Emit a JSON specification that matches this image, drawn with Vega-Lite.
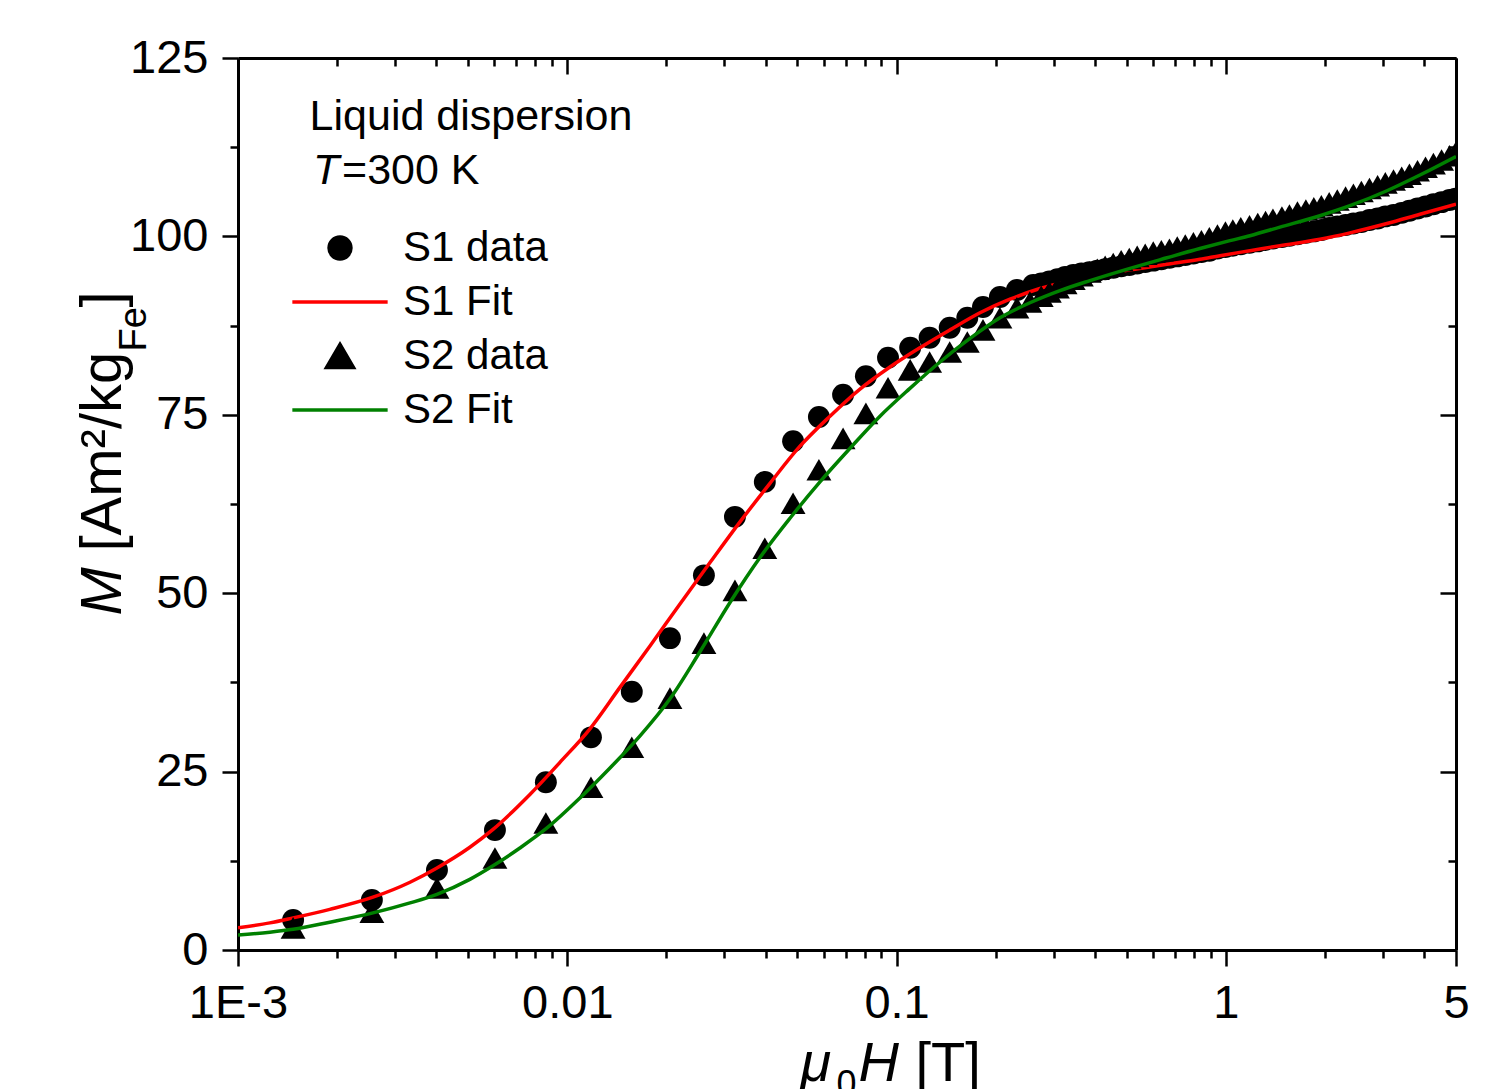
{
  "$schema": "https://vega.github.io/schema/vega-lite/v6.json",
  "width": 1218,
  "height": 892,
  "autosize": {"type": "none"},
  "padding": {"left": 238, "top": 58, "right": 51, "bottom": 139},
  "background": "white",
  "config": {"view": {"stroke": null}, "axis": {"grid": false}, "font": "Liberation Sans"},
  "datasets": {
    "pts": [
      {"H": 0.00147, "M": 4.2, "series": "S1 data"},
      {"H": 0.00255, "M": 7.0, "series": "S1 data"},
      {"H": 0.00402, "M": 11.2, "series": "S1 data"},
      {"H": 0.00603, "M": 16.8, "series": "S1 data"},
      {"H": 0.00861, "M": 23.5, "series": "S1 data"},
      {"H": 0.0118, "M": 29.8, "series": "S1 data"},
      {"H": 0.0157, "M": 36.2, "series": "S1 data"},
      {"H": 0.0205, "M": 43.7, "series": "S1 data"},
      {"H": 0.026, "M": 52.5, "series": "S1 data"},
      {"H": 0.0323, "M": 60.7, "series": "S1 data"},
      {"H": 0.0398, "M": 65.6, "series": "S1 data"},
      {"H": 0.0485, "M": 71.3, "series": "S1 data"},
      {"H": 0.0581, "M": 74.7, "series": "S1 data"},
      {"H": 0.0688, "M": 77.8, "series": "S1 data"},
      {"H": 0.0807, "M": 80.4, "series": "S1 data"},
      {"H": 0.0942, "M": 83.0, "series": "S1 data"},
      {"H": 0.11, "M": 84.4, "series": "S1 data"},
      {"H": 0.126, "M": 85.8, "series": "S1 data"},
      {"H": 0.145, "M": 87.2, "series": "S1 data"},
      {"H": 0.164, "M": 88.6, "series": "S1 data"},
      {"H": 0.183, "M": 90.1, "series": "S1 data"},
      {"H": 0.206, "M": 91.5, "series": "S1 data"},
      {"H": 0.232, "M": 92.5, "series": "S1 data"},
      {"H": 0.26, "M": 93.2, "series": "S1 data"},
      {"H": 0.275, "M": 93.4, "series": "S1 data"},
      {"H": 0.291, "M": 93.7, "series": "S1 data"},
      {"H": 0.308, "M": 94.0, "series": "S1 data"},
      {"H": 0.325, "M": 94.3, "series": "S1 data"},
      {"H": 0.344, "M": 94.6, "series": "S1 data"},
      {"H": 0.364, "M": 94.8, "series": "S1 data"},
      {"H": 0.385, "M": 95.0, "series": "S1 data"},
      {"H": 0.407, "M": 95.2, "series": "S1 data"},
      {"H": 0.43, "M": 95.4, "series": "S1 data"},
      {"H": 0.455, "M": 95.6, "series": "S1 data"},
      {"H": 0.481, "M": 95.8, "series": "S1 data"},
      {"H": 0.509, "M": 96.0, "series": "S1 data"},
      {"H": 0.538, "M": 96.2, "series": "S1 data"},
      {"H": 0.569, "M": 96.4, "series": "S1 data"},
      {"H": 0.602, "M": 96.6, "series": "S1 data"},
      {"H": 0.637, "M": 96.8, "series": "S1 data"},
      {"H": 0.674, "M": 97.0, "series": "S1 data"},
      {"H": 0.712, "M": 97.2, "series": "S1 data"},
      {"H": 0.753, "M": 97.4, "series": "S1 data"},
      {"H": 0.797, "M": 97.6, "series": "S1 data"},
      {"H": 0.843, "M": 97.8, "series": "S1 data"},
      {"H": 0.891, "M": 98.0, "series": "S1 data"},
      {"H": 0.943, "M": 98.3, "series": "S1 data"},
      {"H": 0.997, "M": 98.5, "series": "S1 data"},
      {"H": 1.05, "M": 98.7, "series": "S1 data"},
      {"H": 1.11, "M": 98.9, "series": "S1 data"},
      {"H": 1.18, "M": 99.1, "series": "S1 data"},
      {"H": 1.25, "M": 99.3, "series": "S1 data"},
      {"H": 1.32, "M": 99.5, "series": "S1 data"},
      {"H": 1.39, "M": 99.7, "series": "S1 data"},
      {"H": 1.48, "M": 99.9, "series": "S1 data"},
      {"H": 1.56, "M": 100.1, "series": "S1 data"},
      {"H": 1.65, "M": 100.3, "series": "S1 data"},
      {"H": 1.75, "M": 100.5, "series": "S1 data"},
      {"H": 1.85, "M": 100.7, "series": "S1 data"},
      {"H": 1.95, "M": 100.9, "series": "S1 data"},
      {"H": 2.06, "M": 101.2, "series": "S1 data"},
      {"H": 2.18, "M": 101.4, "series": "S1 data"},
      {"H": 2.31, "M": 101.6, "series": "S1 data"},
      {"H": 2.44, "M": 101.8, "series": "S1 data"},
      {"H": 2.58, "M": 102.0, "series": "S1 data"},
      {"H": 2.73, "M": 102.3, "series": "S1 data"},
      {"H": 2.89, "M": 102.5, "series": "S1 data"},
      {"H": 3.05, "M": 102.8, "series": "S1 data"},
      {"H": 3.23, "M": 103.0, "series": "S1 data"},
      {"H": 3.42, "M": 103.3, "series": "S1 data"},
      {"H": 3.61, "M": 103.6, "series": "S1 data"},
      {"H": 3.82, "M": 103.9, "series": "S1 data"},
      {"H": 4.04, "M": 104.2, "series": "S1 data"},
      {"H": 4.27, "M": 104.5, "series": "S1 data"},
      {"H": 4.52, "M": 104.8, "series": "S1 data"},
      {"H": 4.78, "M": 105.1, "series": "S1 data"},
      {"H": 4.98, "M": 105.3, "series": "S1 data"},
      {"H": 0.00147, "M": 3.1, "series": "S2 data"},
      {"H": 0.00255, "M": 5.3, "series": "S2 data"},
      {"H": 0.00402, "M": 8.7, "series": "S2 data"},
      {"H": 0.00603, "M": 12.9, "series": "S2 data"},
      {"H": 0.00861, "M": 17.8, "series": "S2 data"},
      {"H": 0.0118, "M": 22.8, "series": "S2 data"},
      {"H": 0.0157, "M": 28.4, "series": "S2 data"},
      {"H": 0.0205, "M": 35.3, "series": "S2 data"},
      {"H": 0.026, "M": 43.0, "series": "S2 data"},
      {"H": 0.0323, "M": 50.4, "series": "S2 data"},
      {"H": 0.0398, "M": 56.3, "series": "S2 data"},
      {"H": 0.0485, "M": 62.6, "series": "S2 data"},
      {"H": 0.0581, "M": 67.3, "series": "S2 data"},
      {"H": 0.0688, "M": 71.7, "series": "S2 data"},
      {"H": 0.0807, "M": 75.2, "series": "S2 data"},
      {"H": 0.0942, "M": 78.8, "series": "S2 data"},
      {"H": 0.11, "M": 81.3, "series": "S2 data"},
      {"H": 0.126, "M": 82.4, "series": "S2 data"},
      {"H": 0.145, "M": 83.8, "series": "S2 data"},
      {"H": 0.164, "M": 85.2, "series": "S2 data"},
      {"H": 0.183, "M": 86.9, "series": "S2 data"},
      {"H": 0.206, "M": 88.6, "series": "S2 data"},
      {"H": 0.232, "M": 90.0, "series": "S2 data"},
      {"H": 0.254, "M": 90.8, "series": "S2 data"},
      {"H": 0.275, "M": 91.6, "series": "S2 data"},
      {"H": 0.291, "M": 92.2, "series": "S2 data"},
      {"H": 0.308, "M": 92.8, "series": "S2 data"},
      {"H": 0.325, "M": 93.4, "series": "S2 data"},
      {"H": 0.344, "M": 94.0, "series": "S2 data"},
      {"H": 0.364, "M": 94.5, "series": "S2 data"},
      {"H": 0.385, "M": 95.0, "series": "S2 data"},
      {"H": 0.407, "M": 95.4, "series": "S2 data"},
      {"H": 0.43, "M": 95.8, "series": "S2 data"},
      {"H": 0.455, "M": 96.2, "series": "S2 data"},
      {"H": 0.481, "M": 96.6, "series": "S2 data"},
      {"H": 0.509, "M": 96.9, "series": "S2 data"},
      {"H": 0.538, "M": 97.2, "series": "S2 data"},
      {"H": 0.569, "M": 97.5, "series": "S2 data"},
      {"H": 0.602, "M": 97.8, "series": "S2 data"},
      {"H": 0.637, "M": 98.0, "series": "S2 data"},
      {"H": 0.674, "M": 98.2, "series": "S2 data"},
      {"H": 0.712, "M": 98.5, "series": "S2 data"},
      {"H": 0.753, "M": 98.8, "series": "S2 data"},
      {"H": 0.797, "M": 99.1, "series": "S2 data"},
      {"H": 0.843, "M": 99.4, "series": "S2 data"},
      {"H": 0.891, "M": 99.8, "series": "S2 data"},
      {"H": 0.943, "M": 100.2, "series": "S2 data"},
      {"H": 0.997, "M": 100.6, "series": "S2 data"},
      {"H": 1.05, "M": 100.9, "series": "S2 data"},
      {"H": 1.11, "M": 101.2, "series": "S2 data"},
      {"H": 1.18, "M": 101.5, "series": "S2 data"},
      {"H": 1.25, "M": 101.8, "series": "S2 data"},
      {"H": 1.32, "M": 102.1, "series": "S2 data"},
      {"H": 1.39, "M": 102.4, "series": "S2 data"},
      {"H": 1.48, "M": 102.7, "series": "S2 data"},
      {"H": 1.56, "M": 103.0, "series": "S2 data"},
      {"H": 1.65, "M": 103.4, "series": "S2 data"},
      {"H": 1.75, "M": 103.7, "series": "S2 data"},
      {"H": 1.85, "M": 104.0, "series": "S2 data"},
      {"H": 1.95, "M": 104.3, "series": "S2 data"},
      {"H": 2.06, "M": 104.7, "series": "S2 data"},
      {"H": 2.18, "M": 105.1, "series": "S2 data"},
      {"H": 2.31, "M": 105.5, "series": "S2 data"},
      {"H": 2.44, "M": 105.9, "series": "S2 data"},
      {"H": 2.58, "M": 106.3, "series": "S2 data"},
      {"H": 2.73, "M": 106.7, "series": "S2 data"},
      {"H": 2.89, "M": 107.1, "series": "S2 data"},
      {"H": 3.05, "M": 107.5, "series": "S2 data"},
      {"H": 3.23, "M": 107.9, "series": "S2 data"},
      {"H": 3.42, "M": 108.3, "series": "S2 data"},
      {"H": 3.61, "M": 108.7, "series": "S2 data"},
      {"H": 3.82, "M": 109.2, "series": "S2 data"},
      {"H": 4.04, "M": 109.7, "series": "S2 data"},
      {"H": 4.27, "M": 110.2, "series": "S2 data"},
      {"H": 4.52, "M": 110.7, "series": "S2 data"},
      {"H": 4.78, "M": 111.3, "series": "S2 data"},
      {"H": 4.98, "M": 111.7, "series": "S2 data"}
    ],
    "fit": [
      {"H": 0.001, "M": 3.1, "series": "S1 Fit"},
      {"H": 0.00125, "M": 3.8, "series": "S1 Fit"},
      {"H": 0.00147, "M": 4.5, "series": "S1 Fit"},
      {"H": 0.0019, "M": 5.7, "series": "S1 Fit"},
      {"H": 0.00257, "M": 7.4, "series": "S1 Fit"},
      {"H": 0.00333, "M": 9.5, "series": "S1 Fit"},
      {"H": 0.00402, "M": 11.5, "series": "S1 Fit"},
      {"H": 0.00506, "M": 14.4, "series": "S1 Fit"},
      {"H": 0.00595, "M": 16.9, "series": "S1 Fit"},
      {"H": 0.0077, "M": 21.8, "series": "S1 Fit"},
      {"H": 0.0095, "M": 26.3, "series": "S1 Fit"},
      {"H": 0.01172, "M": 31.0, "series": "S1 Fit"},
      {"H": 0.01445, "M": 36.8, "series": "S1 Fit"},
      {"H": 0.01783, "M": 42.6, "series": "S1 Fit"},
      {"H": 0.02199, "M": 48.5, "series": "S1 Fit"},
      {"H": 0.02713, "M": 54.3, "series": "S1 Fit"},
      {"H": 0.03346, "M": 60.0, "series": "S1 Fit"},
      {"H": 0.04126, "M": 65.4, "series": "S1 Fit"},
      {"H": 0.0509, "M": 70.6, "series": "S1 Fit"},
      {"H": 0.06278, "M": 74.8, "series": "S1 Fit"},
      {"H": 0.07743, "M": 78.6, "series": "S1 Fit"},
      {"H": 0.0955, "M": 81.7, "series": "S1 Fit"},
      {"H": 0.1178, "M": 84.4, "series": "S1 Fit"},
      {"H": 0.1453, "M": 86.9, "series": "S1 Fit"},
      {"H": 0.1792, "M": 89.3, "series": "S1 Fit"},
      {"H": 0.221, "M": 91.2, "series": "S1 Fit"},
      {"H": 0.2726, "M": 92.7, "series": "S1 Fit"},
      {"H": 0.3362, "M": 93.8, "series": "S1 Fit"},
      {"H": 0.4147, "M": 94.6, "series": "S1 Fit"},
      {"H": 0.5114, "M": 95.3, "series": "S1 Fit"},
      {"H": 0.6624, "M": 96.1, "series": "S1 Fit"},
      {"H": 0.8344, "M": 96.8, "series": "S1 Fit"},
      {"H": 0.9597, "M": 97.3, "series": "S1 Fit"},
      {"H": 1.184, "M": 98.0, "series": "S1 Fit"},
      {"H": 1.46, "M": 98.7, "series": "S1 Fit"},
      {"H": 1.931, "M": 99.6, "series": "S1 Fit"},
      {"H": 2.382, "M": 100.5, "series": "S1 Fit"},
      {"H": 3.085, "M": 101.8, "series": "S1 Fit"},
      {"H": 3.886, "M": 103.1, "series": "S1 Fit"},
      {"H": 5, "M": 104.5, "series": "S1 Fit"},
      {"H": 0.001, "M": 2.1, "series": "S2 Fit"},
      {"H": 0.00125, "M": 2.5, "series": "S2 Fit"},
      {"H": 0.00147, "M": 2.9, "series": "S2 Fit"},
      {"H": 0.0019, "M": 3.9, "series": "S2 Fit"},
      {"H": 0.00257, "M": 5.2, "series": "S2 Fit"},
      {"H": 0.00333, "M": 6.6, "series": "S2 Fit"},
      {"H": 0.00402, "M": 7.8, "series": "S2 Fit"},
      {"H": 0.00506, "M": 9.9, "series": "S2 Fit"},
      {"H": 0.00595, "M": 11.8, "series": "S2 Fit"},
      {"H": 0.00718, "M": 14.3, "series": "S2 Fit"},
      {"H": 0.00868, "M": 17.1, "series": "S2 Fit"},
      {"H": 0.01093, "M": 21.3, "series": "S2 Fit"},
      {"H": 0.01348, "M": 25.5, "series": "S2 Fit"},
      {"H": 0.01663, "M": 30.0, "series": "S2 Fit"},
      {"H": 0.02051, "M": 35.2, "series": "S2 Fit"},
      {"H": 0.02529, "M": 41.8, "series": "S2 Fit"},
      {"H": 0.0312, "M": 48.7, "series": "S2 Fit"},
      {"H": 0.03848, "M": 55.0, "series": "S2 Fit"},
      {"H": 0.04746, "M": 60.5, "series": "S2 Fit"},
      {"H": 0.05853, "M": 65.6, "series": "S2 Fit"},
      {"H": 0.0722, "M": 70.3, "series": "S2 Fit"},
      {"H": 0.08905, "M": 74.8, "series": "S2 Fit"},
      {"H": 0.1098, "M": 78.7, "series": "S2 Fit"},
      {"H": 0.1355, "M": 82.4, "series": "S2 Fit"},
      {"H": 0.1671, "M": 85.7, "series": "S2 Fit"},
      {"H": 0.2061, "M": 88.6, "series": "S2 Fit"},
      {"H": 0.2542, "M": 90.7, "series": "S2 Fit"},
      {"H": 0.3135, "M": 92.4, "series": "S2 Fit"},
      {"H": 0.3867, "M": 93.8, "series": "S2 Fit"},
      {"H": 0.4769, "M": 95.1, "series": "S2 Fit"},
      {"H": 0.6624, "M": 97.0, "series": "S2 Fit"},
      {"H": 0.8344, "M": 98.3, "series": "S2 Fit"},
      {"H": 1.029, "M": 99.4, "series": "S2 Fit"},
      {"H": 1.184, "M": 100.1, "series": "S2 Fit"},
      {"H": 1.46, "M": 101.3, "series": "S2 Fit"},
      {"H": 1.931, "M": 102.9, "series": "S2 Fit"},
      {"H": 2.382, "M": 104.3, "series": "S2 Fit"},
      {"H": 3.085, "M": 106.4, "series": "S2 Fit"},
      {"H": 3.886, "M": 108.6, "series": "S2 Fit"},
      {"H": 5, "M": 111.2, "series": "S2 Fit"}
    ],
    "ann": [
      {"H": 0.00165, "M": 114.9, "label": "Liquid dispersion"},
      {"H": 0.00169, "M": 107.3, "label": "T"},
      {"H": 0.00207, "M": 107.3, "label": "=300 K"}
    ]
  },
  "resolve": {"axis": {"x": "independent", "y": "independent"}},
  "layer": [
    {
      "data": {"name": "pts"},
      "transform": [{"filter": "datum.series == 'S1 data'"}],
      "mark": {"type": "point", "shape": "circle", "filled": true, "size": 480, "opacity": 1, "clip": true},
      "encoding": {
        "x": {"field": "H", "type": "quantitative", "scale": {"type": "log", "domain": [0.001, 5], "nice": false},
          "axis": {"orient": "bottom", "values": [0.001,0.002,0.003,0.004,0.005,0.006,0.007,0.008,0.009,0.01,0.02,0.03,0.04,0.05,0.06,0.07,0.08,0.09,0.1,0.2,0.3,0.4,0.5,0.6,0.7,0.8,0.9,1,2,3,4,5],
            "labelExpr": "datum.value==0.001 ? '1E-3' : datum.value==0.01 ? '0.01' : datum.value==0.1 ? '0.1' : datum.value==1 ? '1' : datum.value==5 ? '5' : ''",
            "tickSize": {"condition": {"test": "datum.value==0.001 || datum.value==0.01 || datum.value==0.1 || datum.value==1 || datum.value==5", "value": 16}, "value": 8},
            "tickWidth": 2.5, "tickColor": "black", "domainColor": "black", "domainWidth": 3,
            "labelFont": "Liberation Sans", "labelFontSize": 47, "labelColor": "black", "labelPadding": 14, "labelOverlap": false, "labelFlush": false, "labelBound": false,
            "title": "μ", "titleFont": "Liberation Sans", "titleFontSize": 56, "titleFontStyle": "italic", "titleFontWeight": "normal", "titleColor": "black",
            "titleX": 562, "titleY": 130, "titleAlign": "left", "titleBaseline": "alphabetic", "titleAngle": 0}},
        "y": {"field": "M", "type": "quantitative", "scale": {"domain": [0, 125], "nice": false},
          "axis": {"orient": "left", "values": [0,12.5,25,37.5,50,62.5,75,87.5,100,112.5,125],
            "labelExpr": "datum.value % 25 == 0 ? datum.label : ''",
            "tickSize": {"condition": {"test": "datum.value % 25 == 0", "value": 16}, "value": 8},
            "tickWidth": 2.5, "tickColor": "black", "domainColor": "black", "domainWidth": 3,
            "labelFont": "Liberation Sans", "labelFontSize": 47, "labelColor": "black", "labelPadding": 14, "labelOverlap": false, "labelBound": false, "labelFlush": false,
            "title": "M", "titleFont": "Liberation Sans", "titleFontSize": 58, "titleFontStyle": "italic", "titleFontWeight": "normal", "titleColor": "black",
            "titleX": -118, "titleY": 557, "titleAlign": "left", "titleBaseline": "alphabetic", "titleAngle": 270}},
        "color": {"field": "series", "type": "nominal",
          "scale": {"domain": ["S1 data", "S1 Fit", "S2 data", "S2 Fit"], "range": ["black", "#ff0000", "black", "#008000"]},
          "legend": {"title": null, "orient": "none", "legendX": 54, "legendY": 169, "padding": 0,
            "labelFont": "Liberation Sans", "labelFontSize": 42, "labelColor": "black", "labelLimit": 0, "symbolSize": 480, "rowPadding": 12,
            "encode": {
              "symbols": {"update": {
                "shape": {"signal": "datum.value=='S1 data' ? 'circle' : datum.value=='S2 data' ? 'M0,-1.05L1.23,1.05L-1.23,1.05Z' : 'M-4.35,0L4.35,0'"},
                "fill": {"signal": "indexof(datum.value,'data') >= 0 ? 'black' : 'transparent'"},
                "stroke": {"signal": "datum.value=='S1 Fit' ? '#ff0000' : datum.value=='S2 Fit' ? '#008000' : 'transparent'"},
                "strokeWidth": {"value": 3.5},
                "opacity": {"value": 1},
                "x": {"value": 48}}},
              "labels": {"update": {"x": {"value": 111}}}}}}
      }
    },
    {
      "data": {"name": "fit"},
      "transform": [{"filter": "datum.series == 'S1 Fit'"}],
      "mark": {"type": "line", "strokeWidth": 3.5, "interpolate": "monotone", "clip": true},
      "encoding": {
        "x": {"field": "H", "type": "quantitative", "scale": {"type": "log", "domain": [0.001, 5], "nice": false},
          "axis": {"orient": "bottom", "domain": false, "ticks": false, "labels": false,
            "title": "0", "titleFont": "Liberation Sans", "titleFontSize": 36, "titleFontWeight": "normal", "titleColor": "black",
            "titleX": 598, "titleY": 145, "titleAlign": "left", "titleBaseline": "alphabetic", "titleAngle": 0}},
        "y": {"field": "M", "type": "quantitative", "scale": {"domain": [0, 125], "nice": false},
          "axis": {"orient": "left", "domain": false, "ticks": false, "labels": false,
            "title": "Fe", "titleFont": "Liberation Sans", "titleFontSize": 38, "titleFontWeight": "normal", "titleColor": "black",
            "titleX": -93, "titleY": 293, "titleAlign": "left", "titleBaseline": "alphabetic", "titleAngle": 270}},
        "color": {"field": "series", "type": "nominal",
          "scale": {"domain": ["S1 data", "S1 Fit", "S2 data", "S2 Fit"], "range": ["black", "#ff0000", "black", "#008000"]},
          "legend": {"title": null, "orient": "none", "legendX": 54, "legendY": 169, "padding": 0,
            "labelFont": "Liberation Sans", "labelFontSize": 42, "labelColor": "black", "labelLimit": 0, "symbolSize": 480, "rowPadding": 12,
            "encode": {
              "symbols": {"update": {
                "shape": {"signal": "datum.value=='S1 data' ? 'circle' : datum.value=='S2 data' ? 'M0,-1.05L1.23,1.05L-1.23,1.05Z' : 'M-4.35,0L4.35,0'"},
                "fill": {"signal": "indexof(datum.value,'data') >= 0 ? 'black' : 'transparent'"},
                "stroke": {"signal": "datum.value=='S1 Fit' ? '#ff0000' : datum.value=='S2 Fit' ? '#008000' : 'transparent'"},
                "strokeWidth": {"value": 3.5},
                "opacity": {"value": 1},
                "x": {"value": 48}}},
              "labels": {"update": {"x": {"value": 111}}}}}}
      }
    },
    {
      "data": {"name": "pts"},
      "transform": [{"filter": "datum.series == 'S2 data'"}],
      "mark": {"type": "point", "shape": "triangle-up", "filled": true, "size": 620, "opacity": 1, "clip": true},
      "encoding": {
        "x": {"field": "H", "type": "quantitative", "scale": {"type": "log", "domain": [0.001, 5], "nice": false},
          "axis": {"orient": "top", "values": [0.001,0.002,0.003,0.004,0.005,0.006,0.007,0.008,0.009,0.01,0.02,0.03,0.04,0.05,0.06,0.07,0.08,0.09,0.1,0.2,0.3,0.4,0.5,0.6,0.7,0.8,0.9,1,2,3,4,5],
            "labels": false,
            "tickSize": {"condition": {"test": "datum.value==0.001 || datum.value==0.01 || datum.value==0.1 || datum.value==1 || datum.value==5", "value": -16}, "value": -8},
            "tickWidth": 2.5, "tickColor": "black", "domainColor": "black", "domainWidth": 3,
            "title": "H", "titleFont": "Liberation Sans", "titleFontSize": 56, "titleFontStyle": "italic", "titleFontWeight": "normal", "titleColor": "black",
            "titleX": 620, "titleY": 1022, "titleAlign": "left", "titleBaseline": "alphabetic", "titleAngle": 0}},
        "y": {"field": "M", "type": "quantitative", "scale": {"domain": [0, 125], "nice": false},
          "axis": {"orient": "right", "values": [0,12.5,25,37.5,50,62.5,75,87.5,100,112.5,125],
            "labels": false,
            "tickSize": {"condition": {"test": "datum.value % 25 == 0", "value": -16}, "value": -8},
            "tickWidth": 2.5, "tickColor": "black", "domainColor": "black", "domainWidth": 3,
            "title": "[Am²/kg", "titleFont": "Liberation Sans", "titleFontSize": 58, "titleFontWeight": "normal", "titleColor": "black",
            "titleX": -1336, "titleY": 493, "titleAlign": "left", "titleBaseline": "alphabetic", "titleAngle": 270}},
        "color": {"field": "series", "type": "nominal",
          "scale": {"domain": ["S1 data", "S1 Fit", "S2 data", "S2 Fit"], "range": ["black", "#ff0000", "black", "#008000"]},
          "legend": {"title": null, "orient": "none", "legendX": 54, "legendY": 169, "padding": 0,
            "labelFont": "Liberation Sans", "labelFontSize": 42, "labelColor": "black", "labelLimit": 0, "symbolSize": 480, "rowPadding": 12,
            "encode": {
              "symbols": {"update": {
                "shape": {"signal": "datum.value=='S1 data' ? 'circle' : datum.value=='S2 data' ? 'M0,-1.05L1.23,1.05L-1.23,1.05Z' : 'M-4.35,0L4.35,0'"},
                "fill": {"signal": "indexof(datum.value,'data') >= 0 ? 'black' : 'transparent'"},
                "stroke": {"signal": "datum.value=='S1 Fit' ? '#ff0000' : datum.value=='S2 Fit' ? '#008000' : 'transparent'"},
                "strokeWidth": {"value": 3.5},
                "opacity": {"value": 1},
                "x": {"value": 48}}},
              "labels": {"update": {"x": {"value": 111}}}}}}
      }
    },
    {
      "data": {"name": "fit"},
      "transform": [{"filter": "datum.series == 'S2 Fit'"}],
      "mark": {"type": "line", "strokeWidth": 3.5, "interpolate": "monotone", "clip": true},
      "encoding": {
        "x": {"field": "H", "type": "quantitative", "scale": {"type": "log", "domain": [0.001, 5], "nice": false},
          "axis": {"orient": "bottom", "domain": false, "ticks": false, "labels": false,
            "title": "[T]", "titleFont": "Liberation Sans", "titleFontSize": 56, "titleFontWeight": "normal", "titleColor": "black",
            "titleX": 677, "titleY": 130, "titleAlign": "left", "titleBaseline": "alphabetic", "titleAngle": 0}},
        "y": {"field": "M", "type": "quantitative", "scale": {"domain": [0, 125], "nice": false},
          "axis": {"orient": "left", "domain": false, "ticks": false, "labels": false,
            "title": "]", "titleFont": "Liberation Sans", "titleFontSize": 58, "titleFontWeight": "normal", "titleColor": "black",
            "titleX": -118, "titleY": 249, "titleAlign": "left", "titleBaseline": "alphabetic", "titleAngle": 270}},
        "color": {"field": "series", "type": "nominal",
          "scale": {"domain": ["S1 data", "S1 Fit", "S2 data", "S2 Fit"], "range": ["black", "#ff0000", "black", "#008000"]},
          "legend": {"title": null, "orient": "none", "legendX": 54, "legendY": 169, "padding": 0,
            "labelFont": "Liberation Sans", "labelFontSize": 42, "labelColor": "black", "labelLimit": 0, "symbolSize": 480, "rowPadding": 12,
            "encode": {
              "symbols": {"update": {
                "shape": {"signal": "datum.value=='S1 data' ? 'circle' : datum.value=='S2 data' ? 'M0,-1.05L1.23,1.05L-1.23,1.05Z' : 'M-4.35,0L4.35,0'"},
                "fill": {"signal": "indexof(datum.value,'data') >= 0 ? 'black' : 'transparent'"},
                "stroke": {"signal": "datum.value=='S1 Fit' ? '#ff0000' : datum.value=='S2 Fit' ? '#008000' : 'transparent'"},
                "strokeWidth": {"value": 3.5},
                "opacity": {"value": 1},
                "x": {"value": 48}}},
              "labels": {"update": {"x": {"value": 111}}}}}}
      }
    },
    {
      "data": {"name": "ann"},
      "transform": [{"filter": "datum.label == 'Liquid dispersion'"}],
      "mark": {"type": "text", "font": "Liberation Sans", "fontSize": 43, "align": "left", "baseline": "alphabetic", "color": "black"},
      "encoding": {
        "x": {"field": "H", "type": "quantitative", "scale": {"type": "log", "domain": [0.001, 5], "nice": false}, "axis": null},
        "y": {"field": "M", "type": "quantitative", "scale": {"domain": [0, 125], "nice": false}, "axis": null},
        "text": {"field": "label"}
      }
    },
    {
      "data": {"name": "ann"},
      "transform": [{"filter": "datum.label == '=300 K'"}],
      "mark": {"type": "text", "font": "Liberation Sans", "fontSize": 43, "align": "left", "baseline": "alphabetic", "color": "black"},
      "encoding": {
        "x": {"field": "H", "type": "quantitative", "scale": {"type": "log", "domain": [0.001, 5], "nice": false}, "axis": null},
        "y": {"field": "M", "type": "quantitative", "scale": {"domain": [0, 125], "nice": false}, "axis": null},
        "text": {"field": "label"}
      }
    },
    {
      "data": {"name": "ann"},
      "transform": [{"filter": "datum.label == 'T'"}],
      "mark": {"type": "text", "font": "Liberation Sans", "fontSize": 43, "fontStyle": "italic", "align": "left", "baseline": "alphabetic", "color": "black"},
      "encoding": {
        "x": {"field": "H", "type": "quantitative", "scale": {"type": "log", "domain": [0.001, 5], "nice": false}, "axis": null},
        "y": {"field": "M", "type": "quantitative", "scale": {"domain": [0, 125], "nice": false}, "axis": null},
        "text": {"field": "label"}
      }
    }
  ]
}
